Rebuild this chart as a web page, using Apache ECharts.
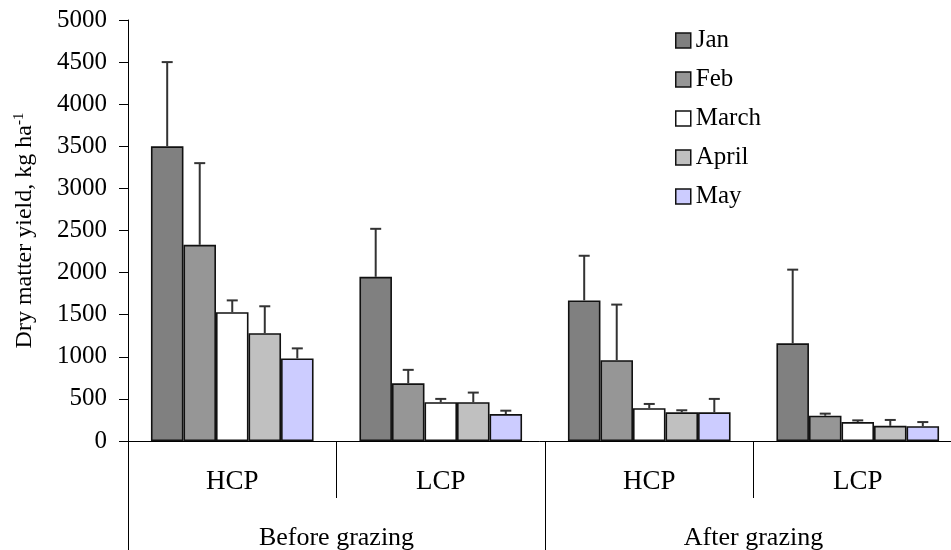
<!DOCTYPE html>
<html>
<head>
<meta charset="utf-8">
<script src="https://cdn.jsdelivr.net/npm/echarts@6/dist/echarts.min.js"></script>
<style>html,body{margin:0;padding:0;background:#fff}#c{width:951px;height:550px}</style>
</head>
<body>
<div id="c"></div>
<script>
const categories = ['HCP', 'LCP', 'HCP', 'LCP'];
const periods = ['Before grazing', 'After grazing'];
const months = ['Jan', 'Feb', 'March', 'April', 'May'];
const colors = ['#808080', '#969696', '#ffffff', '#c0c0c0', '#ccccff'];
const jan = [3500, 1950, 1670, 1160];
const feb = [2330, 685, 960, 300];
const march = [1530, 460, 390, 225];
const april = [1280, 460, 340, 180];
const may = [980, 320, 340, 175];
const janErr = [1000, 570, 530, 875];
const febErr = [970, 160, 660, 25];
const marchErr = [140, 40, 50, 20];
const aprilErr = [320, 115, 25, 70];
const mayErr = [120, 40, 160, 50];
const yTicks = [0, 500, 1000, 1500, 2000, 2500, 3000, 3500, 4000, 4500, 5000];

const values = [jan, feb, march, april, may];
const errors = [janErr, febErr, marchErr, aprilErr, mayErr];
const FONT = 'Liberation Serif';
const GAP = 0.22;

const series = [];
months.forEach((m, i) => {
  series.push({
    name: m, type: 'bar', xAxisIndex: 0,
    data: values[i],
    barGap: '0%', barCategoryGap: (GAP * 100) + '%',
    itemStyle: { color: colors[i], borderColor: '#111', borderWidth: 1.6 },
    emphasis: { disabled: true },
    z: 2
  });
});
months.forEach((m, i) => {
  series.push({
    type: 'custom', xAxisIndex: 0, z: 3,
    data: values[i].map((v, k) => [k, v, errors[i][k]]),
    renderItem: function (params, api) {
      const c = api.value(0), v = api.value(1), e = api.value(2);
      const band = api.size([1, 0])[0];
      const bw = band * (1 - GAP) / months.length;
      const off = -band * (1 - GAP) / 2 + (i + 0.5) * bw;
      const p0 = api.coord([c, v]);
      const p1 = api.coord([c, v + e]);
      const x = p0[0] + off;
      const st = { stroke: '#333', lineWidth: 2 };
      return {
        type: 'group',
        children: [
          { type: 'line', shape: { x1: x, y1: p0[1], x2: x, y2: p1[1] }, style: st },
          { type: 'line', shape: { x1: x - 5.5, y1: p1[1], x2: x + 5.5, y2: p1[1] }, style: st }
        ]
      };
    }
  });
});

const chart = echarts.init(document.getElementById('c'));
chart.setOption({
  animation: false,
  backgroundColor: '#fff',
  grid: { left: 128, top: 20, width: 834, bottom: 109, containLabel: false, outerBoundsMode: 'none' },
  legend: {
    orient: 'vertical', left: 670, top: 23, itemWidth: 15, itemHeight: 15, itemGap: 14,
    data: months, icon: 'rect',
    itemStyle: { borderColor: '#111', borderWidth: 1.5 },
    textStyle: { fontFamily: FONT, fontSize: 25, color: '#000' }
  },
  xAxis: [
    {
      type: 'category', data: categories, position: 'bottom',
      axisLine: { show: true, lineStyle: { color: '#000', width: 1 } },
      axisTick: { show: true, length: 57, interval: 0, lineStyle: { color: '#000', width: 1 } },
      axisLabel: { interval: 0, margin: 27, fontFamily: FONT, fontSize: 27, color: '#000' }
    },
    {
      type: 'category', data: periods, position: 'bottom',
      axisLine: { show: false },
      axisTick: { show: true, length: 109, interval: 0, lineStyle: { color: '#000', width: 1 } },
      axisLabel: { interval: 0, margin: 84, fontFamily: FONT, fontSize: 26, color: '#000' }
    }
  ],
  yAxis: {
    type: 'value', min: yTicks[0], max: yTicks[yTicks.length - 1], interval: 500,
    splitLine: { show: false },
    axisLine: { show: true, lineStyle: { color: '#000', width: 1 } },
    axisTick: { show: true, length: 9, lineStyle: { color: '#000', width: 1 } },
    axisLabel: { margin: 21, fontFamily: FONT, fontSize: 25, color: '#000', formatter: v => String(v) },
    name: '{a|Dry matter yield, kg ha}{s|-1}',
    nameLocation: 'middle', nameGap: 91, nameRotate: 90,
    nameTextStyle: {
      fontFamily: FONT, fontSize: 24, color: '#000',
      rich: {
        a: { fontFamily: FONT, fontSize: 24, color: '#000' },
        s: { fontFamily: FONT, fontSize: 15, color: '#000', verticalAlign: 'top', padding: [0, 0, 10, 0] }
      }
    }
  },
  series: series
});
</script>
</body>
</html>
